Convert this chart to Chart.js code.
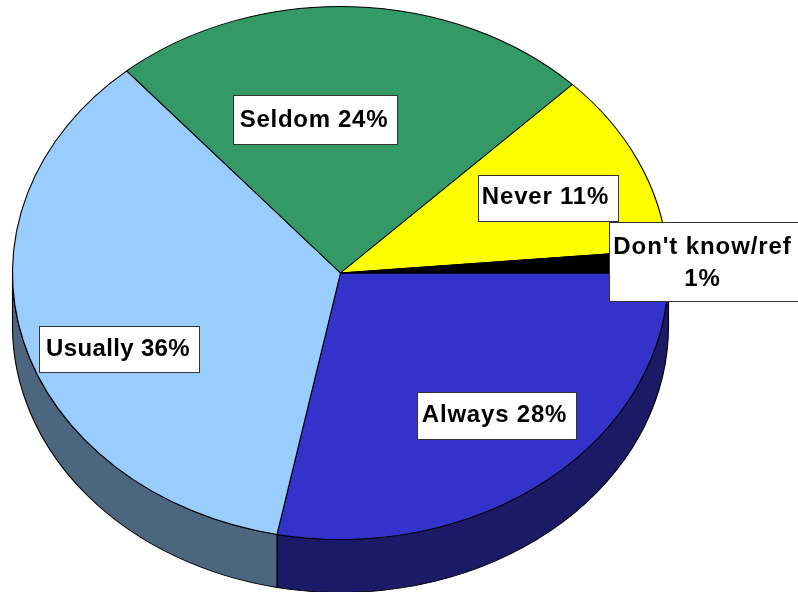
<!DOCTYPE html>
<html>
<head>
<meta charset="utf-8">
<style>html,body{margin:0;padding:0;background:#fff;overflow:hidden}canvas{display:block}</style>
<script src="https://cdn.jsdelivr.net/npm/chart.js@4"></script>
</head>
<body>
<canvas id="c" width="798" height="592"></canvas>
<script>
const categories = ['Always', 'Usually', 'Seldom', 'Never', "Don't know/ref"];
const values = [28.1, 35.6, 23.8, 11.1, 1.4];
const sliceColors = ['#3333CC', '#99CCFF', '#339966', '#FFFF00', '#000000'];
const sideColors = ['#1A1A66', '#4D6680', '#1A4D33', '#808000', '#000000'];
const labelLines = [['Always 28%'], ['Usually 36%'], ['Seldom 24%'], ['Never 11%'], ["Don't know/ref", '1%']];
const labelBoxes = [[417, 392, 160, 48], [39, 326, 161, 47], [233, 95, 165, 50], [478, 175, 141, 47], [609, 222, 192, 80]];
const labelTextX = [494.5, 118, 314, 545.5, 702.5];
const labelTextY = [[415.5], [349], [120.5], [197.5], [247, 279]];
const labelSpacing = [0.8, 0.35, 0.7, 0.8, 0.9];

const FACE = { cx: 340.5, cy: 273, rx: 328, ry: 266.5, depth: 53 };

function applyFace(ctx, arc) {
  const r = arc.outerRadius;
  ctx.translate(FACE.cx, FACE.cy);
  ctx.scale(FACE.rx / r, FACE.ry / r);
  ctx.translate(-arc.x, -arc.y);
}

const pie3d = {
  id: 'pie3d',
  beforeDatasetsDraw(chart) {
    const ctx = chart.ctx;
    const arcs = chart.getDatasetMeta(0).data;
    ctx.save();
    applyFace(ctx, arcs[0]);
    const r = arcs[0].outerRadius;
    const d = FACE.depth * r / FACE.ry;
    arcs.forEach((a, i) => {
      const from = Math.max(a.startAngle, 0);
      const to = Math.min(a.endAngle, Math.PI);
      if (to <= from) return;
      ctx.beginPath();
      ctx.arc(a.x, a.y, r, from, to);
      ctx.arc(a.x, a.y + d, r, to, from, true);
      ctx.closePath();
      ctx.fillStyle = sideColors[i];
      ctx.fill();
      ctx.strokeStyle = '#000';
      ctx.lineWidth = 1;
      ctx.stroke();
    });
  },
  afterDatasetsDraw(chart) {
    const ctx = chart.ctx;
    ctx.restore();
    ctx.save();
    ctx.textAlign = 'center';
    ctx.textBaseline = 'middle';
    ctx.font = 'bold 24px "Liberation Sans", Arial, sans-serif';
    labelBoxes.forEach((b, i) => {
      ctx.fillStyle = '#fff';
      ctx.fillRect(b[0], b[1], b[2], b[3]);
      ctx.strokeStyle = '#333';
      ctx.lineWidth = 1;
      ctx.strokeRect(b[0] + 0.5, b[1] + 0.5, b[2] - 1, b[3] - 1);
      ctx.fillStyle = '#000';
      ctx.letterSpacing = labelSpacing[i] + 'px';
      labelLines[i].forEach((t, k) => {
        ctx.fillText(t, labelTextX[i], labelTextY[i][k]);
      });
    });
    ctx.restore();
  }
};

new Chart(document.getElementById('c'), {
  type: 'pie',
  data: {
    labels: categories,
    datasets: [{
      data: values,
      backgroundColor: sliceColors,
      borderColor: '#000',
      borderWidth: 1,
      borderAlign: 'center'
    }]
  },
  options: {
    responsive: false,
    animation: false,
    rotation: 90,
    layout: { padding: 0 },
    plugins: { legend: { display: false }, tooltip: { enabled: false } }
  },
  plugins: [pie3d]
});
</script>
</body>
</html>
